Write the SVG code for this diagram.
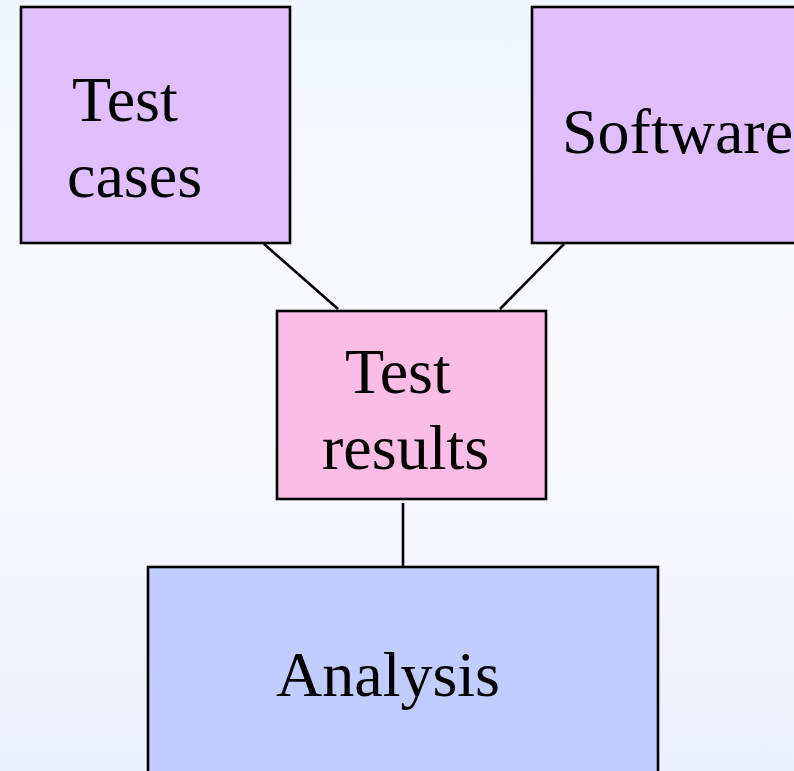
<svg xmlns="http://www.w3.org/2000/svg" width="794" height="771" viewBox="0 0 794 771">
<defs>
<linearGradient id="bg" x1="0" y1="0" x2="0" y2="1">
<stop offset="0" stop-color="#f1f5fe"/>
<stop offset="0.5" stop-color="#fbfbff"/>
<stop offset="1" stop-color="#eceffc"/>
</linearGradient>
<style>
.box{stroke:#000;stroke-width:2.6}
.lbl{font-family:'Liberation Serif','Times New Roman',serif;font-size:64px;fill:#000}
.con{stroke:#000;stroke-width:2.6;fill:none}
</style>
</defs>
<rect x="0" y="0" width="794" height="771" fill="url(#bg)"/>
<g id="connectors">
<line class="con" x1="264" y1="244" x2="338" y2="309"/>
<line class="con" x1="564" y1="244" x2="500" y2="309"/>
<line class="con" x1="403" y1="503" x2="403" y2="567"/>
</g>
<g id="test-cases">
<rect class="box" x="21" y="7" width="269" height="236" fill="#e1bfff"/>
<text class="lbl" font-family="Liberation Serif, serif" x="72" y="121">Test</text>
<text class="lbl" font-family="Liberation Serif, serif" x="67" y="197">cases</text>
</g>
<g id="software">
<rect class="box" x="532" y="7" width="280" height="236" fill="#e1bfff"/>
<text class="lbl" font-family="Liberation Serif, serif" x="562" y="153">Software</text>
</g>
<g id="test-results">
<rect class="box" x="277" y="311" width="269" height="188" fill="#fbbde6"/>
<text class="lbl" font-family="Liberation Serif, serif" x="345" y="393">Test</text>
<text class="lbl" font-family="Liberation Serif, serif" x="322" y="469">results</text>
</g>
<g id="analysis">
<rect class="box" x="148" y="567" width="510" height="220" fill="#c2cdff"/>
<text class="lbl" font-family="Liberation Serif, serif" x="276" y="696">Analysis</text>
</g>
</svg>
